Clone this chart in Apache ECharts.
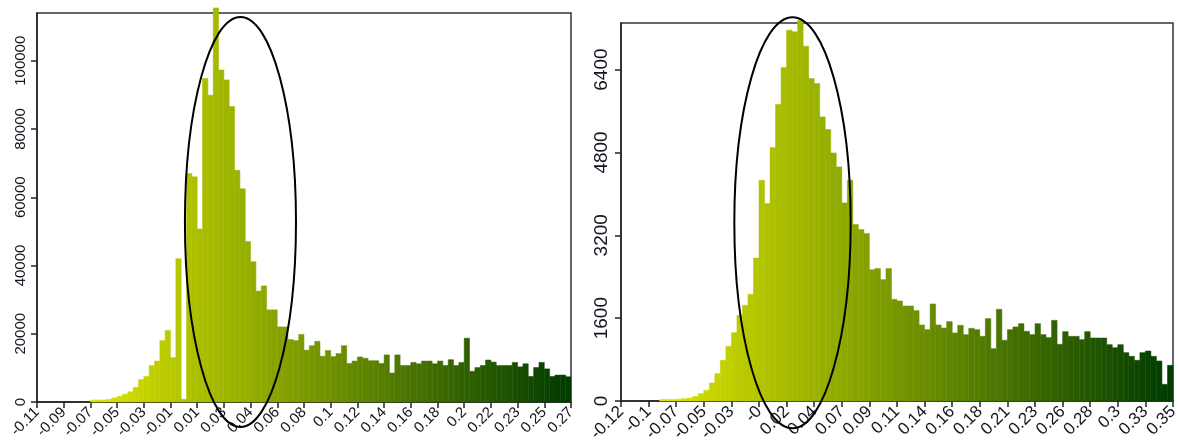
<!DOCTYPE html>
<html><head><meta charset="utf-8">
<script src="https://cdn.jsdelivr.net/npm/echarts@6/dist/echarts.min.js"></script>
<style>html,body{margin:0;padding:0;background:#fff}#c{width:1180px;height:445px}</style>
</head><body><div id="c"></div>
<script>
// ---- data (bin counts, 100 bins per panel) ----
const leftCounts = [
  0,0,0,0,0,0,0,0,0,0,
  600,600,600,800,1200,1700,2300,3000,4300,6600,
  7500,10700,12000,18000,21000,13000,42000,800,67000,66000,
  50700,94800,89900,115500,97300,94400,86600,67900,62500,47000,
  41100,32500,34000,27000,27000,22000,22000,18300,18000,19800,
  15200,16500,17800,13400,15100,13300,14200,16500,11300,12000,
  13200,12800,12100,12100,11300,13800,8500,13800,10700,10700,
  11600,11200,12000,12000,11200,12000,10700,12400,10700,11600,
  18700,9000,10100,10700,12300,11700,10700,10700,10700,11600,
  10300,11200,7500,10100,11600,9700,7500,7900,7900,7400
];
const rightCounts = [
  0,0,0,0,0,0,0,30,30,30,
  35,45,58,90,142,206,348,528,786,1056,
  1320,1655,1848,2061,2762,4263,3812,4894,5725,6440,
  7161,7129,7354,6852,6227,6131,5487,5242,4791,4521,
  3825,4263,3407,3310,3233,2537,2557,2344,2557,1964,
  1932,1835,1835,1745,1468,1378,1874,1468,1410,1533,
  1314,1462,1282,1404,1378,1249,1591,1011,1771,1172,
  1378,1430,1494,1346,1282,1494,1282,1224,1558,1095,
  1340,1249,1249,1185,1340,1217,1217,1217,1088,1030,
  1088,934,863,786,934,966,863,773,322,689
];
const leftTickLabels = ["-0.11","-0.09","-0.07","-0.05","-0.03","-0.01","0.01","0.03","0.04","0.06","0.08","0.1","0.12","0.14","0.16","0.18","0.2","0.22","0.23","0.25","0.27"];
const rightTickLabels = ["-0.12","-0.1","-0.07","-0.05","-0.03","-0","0.02","0.04","0.07","0.09","0.11","0.14","0.16","0.18","0.21","0.23","0.26","0.28","0.3","0.33","0.35"];
const leftYTicks = [0,20000,40000,60000,80000,100000];
const rightYTicks = [0,1600,3200,4800,6400];
const leftYMax = 114000;
const rightYMax = 7300;
// annotation ellipses in data units (bin index, count)
const leftEllipse = {cx:38.1, cy:52750, rx:10.4, ry:60080};
const rightEllipse = {cx:31.07, cy:3443, rx:10.54, ry:3969};

const startColor = '#dde500', endColor = '#003c00';
function hex2rgb(h){return [parseInt(h.slice(1,3),16),parseInt(h.slice(3,5),16),parseInt(h.slice(5,7),16)];}
function lerpColor(a,b,t){const A=hex2rgb(a),B=hex2rgb(b);return 'rgb('+A.map((x,i)=>Math.round(x+(B[i]-x)*t)).join(',')+')';}
function firstNonZero(arr){for(let i=0;i<arr.length;i++) if(arr[i]>0) return i; return 0;}

function makeSeries(counts, idx){
  const k0 = firstNonZero(counts);
  const n = counts.length;
  return {
    type:'custom', xAxisIndex:idx, yAxisIndex:idx, clip:false, silent:true,
    data: counts.map((v,k)=>[k,v]),
    renderItem(params, api){
      const k = api.value(0), v = api.value(1);
      if(!v) return null;
      const p0 = api.coord([k, v]), p1 = api.coord([k+1, 0]);
      const c = lerpColor(startColor, endColor, (k-k0)/(n-1-k0));
      return {type:'rect', shape:{x:p0[0], y:p0[1], width:p1[0]-p0[0], height:p1[1]-p0[1]},
        style:{fill:c, stroke:c, lineWidth:0.5}};
    }
  };
}

const font = 'Liberation Sans, Arial, sans-serif';
function xAxis(idx, labels, fs, margin){
  return {type:'value', gridIndex:idx, min:0, max:100, interval:5,
    axisLine:{show:true, onZero:false, lineStyle:{color:'#222', width:1.5}},
    axisTick:{show:true, length:6, lineStyle:{color:'#222', width:1.5}},
    axisLabel:{rotate:45, margin:margin, fontSize:fs, fontFamily:font, color:'#151520',
      formatter: v => labels[Math.round(v/5)]},
    splitLine:{show:false}};
}
function yAxis(idx, max, ticks, fs, margin){
  return {type:'value', gridIndex:idx, min:0, max:max,
    axisLine:{show:true, lineStyle:{color:'#222', width:1.5}},
    axisTick:{show:true, length:6, customValues:ticks, lineStyle:{color:'#222', width:1.5}},
    axisLabel:{rotate:90, margin:margin, fontSize:fs, fontFamily:font, color:'#151520',
      customValues:ticks, formatter: v => String(v)},
    splitLine:{show:false}};
}

const chart = echarts.init(document.getElementById('c'), null, {renderer:'canvas'});
chart.setOption({
  animation:false,
  backgroundColor:'#fff',
  grid:[
    {left:37, top:13, width:534, height:389, show:true, borderColor:'#333', borderWidth:1.5, backgroundColor:'transparent', outerBoundsMode:'none'},
    {left:621, top:23, width:552, height:378, show:true, borderColor:'#333', borderWidth:1.5, backgroundColor:'transparent', outerBoundsMode:'none'}
  ],
  xAxis:[xAxis(0, leftTickLabels, 15, 8), xAxis(1, rightTickLabels, 17, 8)],
  yAxis:[yAxis(0, leftYMax, leftYTicks, 15, 9), yAxis(1, rightYMax, rightYTicks, 19, 10)],
  series:[makeSeries(leftCounts,0), makeSeries(rightCounts,1)]
});

function ellipseGraphic(e, gi){
  const c = chart.convertToPixel({gridIndex:gi}, [e.cx, e.cy]);
  const r = chart.convertToPixel({gridIndex:gi}, [e.cx+e.rx, e.cy+e.ry]);
  return {type:'ellipse', shape:{cx:c[0], cy:c[1], rx:Math.abs(r[0]-c[0]), ry:Math.abs(c[1]-r[1])},
    style:{fill:'none', stroke:'#000', lineWidth:2}, z:100, silent:true};
}
chart.setOption({graphic:[ellipseGraphic(leftEllipse,0), ellipseGraphic(rightEllipse,1)]});
</script></body></html>
